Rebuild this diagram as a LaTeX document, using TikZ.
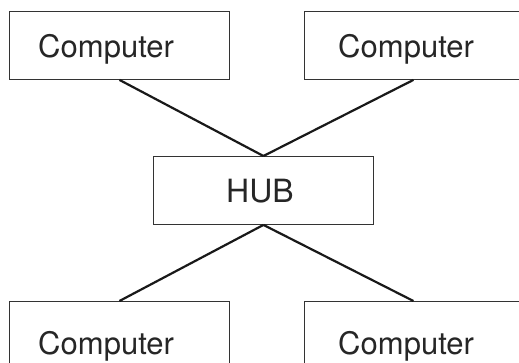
\documentclass[tikz,border=0pt]{standalone}
\usepackage{fontspec}
\setmainfont{TeX Gyre Heros}
\usetikzlibrary{calc}
\begin{document}
\begin{tikzpicture}[x=1pt,y=-1pt,
  box/.style={draw=black!80,line width=0.9pt,fill=white,rectangle,inner sep=0pt,minimum width=220pt,minimum height=68pt,anchor=north west},
  rbox/.style={box,minimum width=218pt},
  txt/.style={font=\fontsize{31}{31}\selectfont,text=black!85,inner sep=0pt,anchor=base west},
  link/.style={line width=2.2pt,black!90}]
\useasboundingbox (0,0) rectangle (519,362);
\clip (0,0) rectangle (519,362);
\node[box] (tl) at (9,11) {};
\node[rbox] (tr) at (304,11) {};
\node[box] (hub) at (153,156) {};
\node[box] (bl) at (9,301) {};
\node[rbox] (br) at (304,301) {};
\node[txt] (tltxt) at ($(tl.north west)+(29,46)$) {Computer};
\node[txt] (trtxt) at ($(tr.north west)+(34,46)$) {Computer};
\node[txt,font=\fontsize{32}{32}\selectfont] (hubtxt) at ($(hub.north west)+(73,46)$) {HUB};
\node[txt] (bltxt) at ($(bl.north west)+(29,53)$) {Computer};
\node[txt] (brtxt) at ($(br.north west)+(34,53)$) {Computer};
\draw[link] (tl.south) -- (hub.north);
\draw[link] (tr.south) -- (hub.north);
\draw[link] (hub.south) -- (bl.north);
\draw[link] (hub.south) -- (br.north);
\end{tikzpicture}
\end{document}
